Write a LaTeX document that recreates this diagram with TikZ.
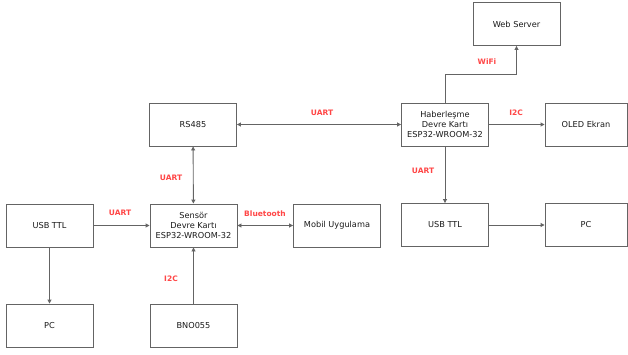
\documentclass[tikz,border=0pt]{standalone}
\usepackage{fontspec}
\setmainfont{DejaVu Sans}
\usetikzlibrary{arrows.meta}
\definecolor{BoxGray}{RGB}{100, 100, 100}
\definecolor{TextGray}{RGB}{25, 25, 25}
\definecolor{LinkRed}{RGB}{255, 70, 70}

\begin{document}
\begin{tikzpicture}[x=1pt, y=-1pt,
        block/.style={draw=BoxGray, line width=0.9pt, minimum width=87pt, minimum height=43pt,
            inner sep=0pt, align=center, text=TextGray, font=\fontsize{8.2}{10}\selectfont},
        link/.style={draw=BoxGray, line width=0.9pt, -{Triangle[length=4pt, width=4pt]}},
        both/.style={link, {Triangle[length=4pt, width=4pt]}-{Triangle[length=4pt, width=4pt]}},
        tag/.style={text=LinkRed, font=\bfseries\fontsize{7.5}{8}\selectfont}]
        \useasboundingbox (0,0) rectangle (628,354);
        % sensor side
        \node[block] (UsbLeft)  at (49.5,225.5) {USB TTL};
        \node[block] (PcLeft)   at (49.5,325.5) {PC};
        \node[block] (Rs485)    at (193,124.5) {RS485};
        \node[block] (Sensor)   at (193.5,225.5) {Sensör\\Devre Kartı\\ESP32-WROOM-32};
        \node[block] (Mobile)   at (337,225.5) {Mobil Uygulama};
        \node[block] (Bno)      at (193.5,325.5) {BNO055};
        % communication side
        \node[block] (Comm)     at (445,124.5) {Haberleşme\\Devre Kartı\\ESP32-WROOM-32};
        \node[block] (WebSrv)   at (516.5,24) {Web Server};
        \node[block, minimum width=82pt] (Oled)   at (586,124.5) {OLED Ekran};
        \node[block] (UsbRight) at (445,225) {USB TTL};
        \node[block, minimum width=82pt] (PcRight) at (586,225) {PC};
        % connectors
        \draw[link] (UsbLeft) -- (Sensor);
        \draw[link] (UsbLeft) -- (PcLeft);
        \draw[both] (Sensor) -- (Rs485);
        \draw[both] (Rs485) -- (Comm);
        \draw[both] (Sensor) -- (Mobile);
        \draw[link] (Bno) -- (Sensor);
        \draw[link] (Comm) -- (Oled);
        \draw[link] (Comm) -- (UsbRight);
        \draw[link] (UsbRight) -- (PcRight);
        \draw[link] (Comm.north) -- ++(0,-28) -| (WebSrv.south);
        % labels
        \node[tag] (tUartA) at (120,213) {UART};
        \node[tag] (tUartB) at (171,178) {UART};
        \node[tag] (tUartC) at (322,113) {UART};
        \node[tag] (tBt)    at (265,214) {Bluetooth};
        \node[tag] (tI2cA)  at (171,279) {I2C};
        \node[tag] (tWifi)  at (487,62)  {WiFi};
        \node[tag] (tI2cB)  at (516,113) {I2C};
        \node[tag] (tUartD) at (423,171) {UART};
    \end{tikzpicture}
\end{document}
